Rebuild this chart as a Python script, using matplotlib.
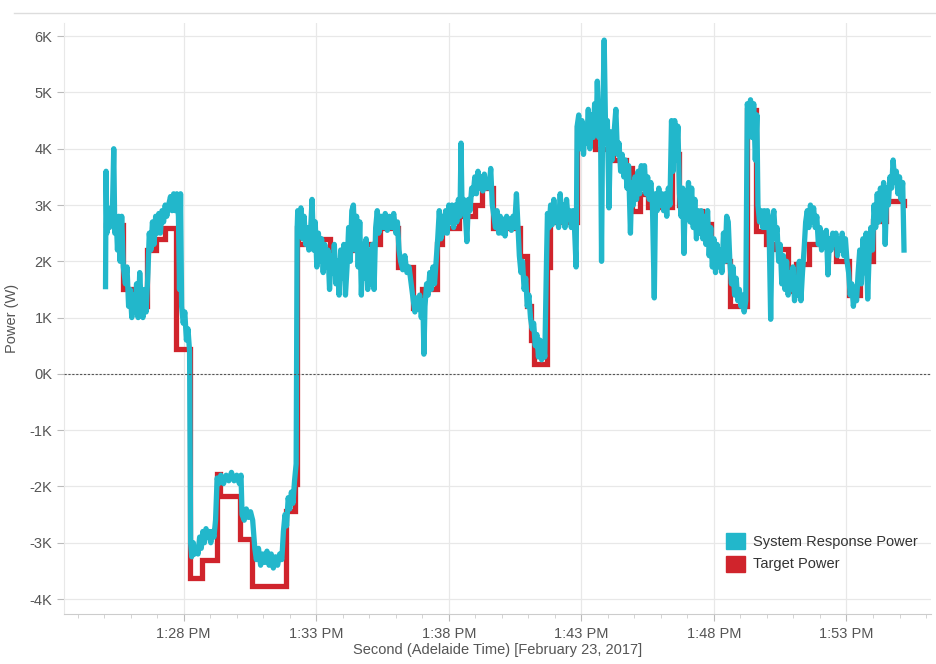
import matplotlib
matplotlib.use("Agg")
import matplotlib.pyplot as plt
from matplotlib.patches import Patch
from matplotlib.lines import Line2D
from matplotlib.ticker import FuncFormatter, MultipleLocator, FixedLocator

# time axis: minutes past 1:00 PM, power in kW
resp_t = [
    25.05, 25.07, 25.10, 25.15, 25.20, 25.25, 25.30, 25.36, 25.40, 25.45, 25.50, 25.55, 25.60, 25.66,
    25.72, 25.80, 25.86, 25.92, 25.98, 26.04, 26.10, 26.16, 26.22, 26.28, 26.34, 26.40, 26.46, 26.52,
    26.58, 26.65, 26.70, 26.76, 26.82, 26.88, 26.94, 27.00, 27.06, 27.12, 27.18, 27.24, 27.30, 27.36,
    27.43, 27.50, 27.56, 27.62, 27.68, 27.74, 27.80, 27.84, 27.88, 27.92, 27.98, 28.04, 28.10, 28.16,
    28.22, 28.26, 28.30, 28.36, 28.42, 28.48, 28.54, 28.60, 28.66, 28.72, 28.78, 28.84, 28.90, 28.96,
    29.02, 29.08, 29.14, 29.20, 29.26, 29.32, 29.40, 29.50, 29.60, 29.70, 29.80, 29.90, 30.00, 30.10,
    30.16, 30.20, 30.28, 30.36, 30.44, 30.52, 30.60, 30.68, 30.74, 30.82, 30.90, 30.98, 31.06, 31.14,
    31.22, 31.30, 31.38, 31.46, 31.54, 31.62, 31.70, 31.76, 31.82, 31.88, 31.94, 32.00, 32.06, 32.12,
    32.18, 32.24, 32.28, 32.30, 32.36, 32.42, 32.48, 32.54, 32.60, 32.66, 32.72, 32.78, 32.84, 32.90,
    32.96, 33.02, 33.08, 33.14, 33.20, 33.26, 33.32, 33.38, 33.44, 33.50, 33.56, 33.62, 33.68, 33.74,
    33.80, 33.86, 33.92, 33.98, 34.04, 34.10, 34.16, 34.22, 34.28, 34.34, 34.40, 34.46, 34.52, 34.58,
    34.64, 34.70, 34.76, 34.82, 34.88, 34.94, 35.00, 35.06, 35.12, 35.18, 35.24, 35.30, 35.36, 35.44,
    35.52, 35.60, 35.68, 35.76, 35.84, 35.92, 36.00, 36.06, 36.12, 36.18, 36.26, 36.34, 36.42, 36.50,
    36.58, 36.66, 36.72, 36.78, 36.84, 36.90, 36.96, 37.02, 37.06, 37.10, 37.16, 37.22, 37.28, 37.34,
    37.40, 37.46, 37.52, 37.58, 37.64, 37.70, 37.76, 37.82, 37.88, 37.94, 38.00, 38.06, 38.12, 38.18,
    38.24, 38.30, 38.36, 38.42, 38.46, 38.50, 38.56, 38.62, 38.68, 38.74, 38.80, 38.86, 38.92, 38.98,
    39.04, 39.10, 39.16, 39.22, 39.28, 39.34, 39.40, 39.46, 39.52, 39.58, 39.64, 39.70, 39.76, 39.82,
    39.88, 39.94, 40.00, 40.06, 40.12, 40.18, 40.24, 40.30, 40.36, 40.42, 40.48, 40.55, 40.60, 40.66,
    40.72, 40.78, 40.84, 40.90, 40.96, 41.02, 41.08, 41.14, 41.20, 41.26, 41.32, 41.38, 41.44, 41.50,
    41.56, 41.62, 41.68, 41.72, 41.78, 41.84, 41.90, 41.96, 42.02, 42.08, 42.14, 42.20, 42.26, 42.32,
    42.38, 42.44, 42.50, 42.56, 42.62, 42.68, 42.74, 42.80, 42.84, 42.90, 42.96, 43.02, 43.08, 43.14,
    43.20, 43.26, 43.32, 43.38, 43.44, 43.50, 43.56, 43.60, 43.66, 43.72, 43.76, 43.80, 43.86, 43.92,
    43.98, 44.04, 44.10, 44.16, 44.22, 44.30, 44.36, 44.42, 44.48, 44.54, 44.60, 44.66, 44.72, 44.78,
    44.85, 44.90, 44.96, 45.02, 45.08, 45.14, 45.20, 45.26, 45.32, 45.38, 45.44, 45.50, 45.56, 45.62,
    45.68, 45.75, 45.80, 45.86, 45.92, 45.98, 46.04, 46.10, 46.16, 46.22, 46.28, 46.34, 46.40, 46.46,
    46.52, 46.58, 46.64, 46.70, 46.76, 46.82, 46.87, 46.92, 46.98, 47.04, 47.10, 47.16, 47.22, 47.28,
    47.34, 47.40, 47.46, 47.52, 47.58, 47.64, 47.70, 47.76, 47.82, 47.88, 47.94, 48.00, 48.06, 48.12,
    48.18, 48.24, 48.30, 48.36, 48.42, 48.48, 48.54, 48.60, 48.66, 48.72, 48.78, 48.84, 48.90, 48.96,
    49.02, 49.08, 49.14, 49.20, 49.26, 49.32, 49.38, 49.44, 49.50, 49.56, 49.62, 49.66, 49.72, 49.78,
    49.84, 49.90, 49.96, 50.02, 50.08, 50.14, 50.20, 50.26, 50.32, 50.38, 50.44, 50.50, 50.56, 50.62,
    50.68, 50.74, 50.80, 50.86, 50.92, 50.98, 51.04, 51.10, 51.16, 51.22, 51.28, 51.34, 51.40, 51.46,
    51.52, 51.58, 51.64, 51.70, 51.76, 51.82, 51.88, 51.94, 52.00, 52.06, 52.12, 52.18, 52.24, 52.30,
    52.36, 52.42, 52.48, 52.54, 52.60, 52.66, 52.72, 52.78, 52.84, 52.90, 52.96, 53.02, 53.08, 53.14,
    53.20, 53.26, 53.32, 53.38, 53.44, 53.50, 53.56, 53.62, 53.68, 53.74, 53.80, 53.86, 53.92, 53.98,
    54.04, 54.10, 54.16, 54.22, 54.28, 54.34, 54.40, 54.46, 54.52, 54.58, 54.64, 54.70, 54.76, 54.82,
    54.88, 54.94, 55.00, 55.06, 55.12, 55.17,
]
resp_kw = [
    1.55, 3.6, 2.5, 2.9, 2.6, 2.95, 2.7, 4.0, 2.5, 2.8, 2.2, 2.8, 2.0, 2.8,
    1.9, 1.6, 1.9, 1.2, 1.5, 1.0, 1.4, 1.1, 1.6, 1.0, 1.8, 1.2, 1.0, 1.5,
    1.1, 1.8, 2.5, 2.2, 2.7, 2.3, 2.8, 2.5, 2.85, 2.5, 2.9, 2.7, 3.0, 2.8,
    3.0, 3.15, 2.9, 3.2, 2.9, 3.2, 2.8, 1.5, 3.2, 1.2, 0.9, 1.1, 0.6, 0.8,
    0.4, -3.0, -3.25, -3.0, -3.2, -3.1, -3.2, -2.9, -3.1, -2.8, -3.0, -2.75, -2.9, -2.8,
    -3.0, -2.8, -2.9, -2.6, -1.85, -1.95, -1.8, -1.95, -1.8, -1.9, -1.75, -1.9, -1.8, -1.95,
    -1.8, -2.5, -2.6, -2.4, -2.55, -2.45, -2.6, -3.1, -3.3, -3.1, -3.4, -3.2, -3.35, -3.15,
    -3.4, -3.2, -3.45, -3.25, -3.4, -3.2, -3.3, -2.8, -2.5, -2.7, -2.2, -2.4, -2.1, -2.3,
    -1.9, -1.6, 2.6, 2.9, 2.6, 2.95, 2.4, 2.8, 2.3, 2.6, 2.2, 2.5, 3.1, 2.2,
    2.7, 1.9, 2.5, 2.0, 2.4, 1.8, 2.3, 1.9, 2.2, 1.5, 2.1, 1.8, 2.3, 1.6,
    2.0, 1.4, 2.2, 1.7, 2.3, 1.4, 1.9, 2.6, 2.0, 2.9, 3.0, 2.2, 2.8, 1.9,
    2.7, 1.4, 2.3, 1.7, 2.4, 1.5, 2.2, 1.6, 2.3, 1.5, 2.6, 2.9, 2.5, 2.8,
    2.6, 2.85, 2.55, 2.8, 2.6, 2.85, 2.5, 2.7, 2.2, 2.0, 1.85, 2.1, 1.8, 1.9,
    1.6, 1.3, 1.1, 1.35, 1.15, 1.4, 1.0, 1.3, 0.35, 1.2, 1.6, 1.4, 1.8, 1.5,
    1.9, 1.6, 2.0, 2.4, 2.9, 2.4, 2.8, 2.5, 2.9, 2.5, 3.0, 2.7, 3.0, 2.6,
    3.0, 2.7, 3.1, 2.8, 4.1, 2.9, 3.1, 2.85, 2.35, 3.1, 2.9, 3.3, 3.2, 3.5,
    3.2, 3.6, 3.3, 3.5, 3.25, 3.55, 3.3, 3.45, 3.3, 3.65, 3.0, 2.8, 2.6, 2.9,
    2.5, 2.8, 2.5, 2.75, 2.45, 2.8, 2.6, 2.75, 2.55, 2.8, 2.6, 3.2, 2.7, 2.1,
    1.8, 2.0, 1.5, 1.7, 1.2, 1.4, 1.0, 0.8, 0.9, 0.5, 0.7, 0.3, 0.6, 0.25,
    0.5, 0.3, 1.9, 2.85, 2.6, 3.0, 2.65, 3.1, 2.7, 2.9, 2.6, 3.2, 2.7, 3.0,
    2.6, 3.1, 2.75, 2.9, 2.6, 2.9, 2.6, 1.9, 4.4, 4.6, 4.0, 4.5, 3.9, 4.4,
    4.1, 4.7, 4.0, 4.6, 4.2, 4.8, 4.3, 5.2, 4.2, 4.6, 2.0, 4.4, 5.93, 4.1,
    4.5, 2.95, 4.3, 3.8, 4.2, 4.7, 3.9, 4.1, 3.6, 3.9, 3.5, 3.8, 3.3, 3.7,
    2.5, 3.4, 3.0, 3.5, 3.1, 3.6, 3.2, 3.7, 3.3, 3.7, 3.2, 3.5, 3.1, 3.4,
    3.0, 1.35, 3.2, 2.9, 3.3, 3.0, 3.2, 2.9, 3.2, 2.8, 3.3, 3.0, 4.5, 3.6,
    4.5, 3.8, 4.4, 3.2, 2.8, 3.3, 2.14, 3.2, 2.9, 3.4, 2.7, 3.3, 2.6, 3.1,
    2.4, 2.9, 2.5, 2.9, 2.4, 2.8, 2.3, 2.9, 2.1, 2.6, 1.9, 2.4, 1.8, 2.3,
    1.9, 2.2, 1.8, 2.5, 2.0, 2.8, 2.7, 2.0, 1.6, 1.9, 1.4, 1.7, 1.3, 1.5,
    1.2, 1.4, 1.1, 1.3, 4.8, 4.5, 4.87, 4.2, 4.8, 3.8, 4.6, 3.0, 2.7, 2.9,
    2.6, 2.9, 2.6, 2.9, 2.6, 0.97, 2.7, 2.9, 2.4, 2.6, 2.0, 2.3, 1.6, 2.1,
    1.5, 2.0, 1.4, 1.8, 1.5, 1.9, 1.3, 1.7, 1.4, 2.0, 1.3, 1.8, 2.2, 2.7,
    2.9, 2.6, 3.0, 2.7, 2.95, 2.6, 2.8, 2.3, 2.6, 2.2, 2.5, 2.3, 2.55, 1.76,
    2.4, 2.2, 2.5, 2.3, 2.5, 2.1, 2.4, 2.2, 2.5, 2.1, 2.4, 2.0, 1.8, 1.4,
    1.6, 1.2, 1.5, 1.3, 1.8, 2.2, 1.6, 2.4, 1.8, 2.5, 1.33, 2.2, 2.6, 2.2,
    3.0, 2.6, 3.2, 2.7, 3.3, 2.8, 3.4, 2.3, 3.3, 3.0, 3.5, 3.3, 3.8, 3.4,
    3.6, 3.2, 3.5, 3.1, 3.4, 2.2,
]

target_t = [
    25.05, 25.72, 26.00, 26.62, 26.95, 27.30, 27.70, 28.25, 28.69, 29.26, 29.38, 30.14,
    30.58, 31.84, 32.21, 32.28, 32.30, 32.65, 33.50, 34.00, 34.80, 35.40, 36.10, 36.65,
    37.00, 37.55, 37.75, 38.40, 39.00, 39.25, 39.65, 40.20, 40.70, 40.95, 41.10, 41.20,
    41.70, 41.80, 42.83, 43.50, 44.20, 44.70, 44.90, 45.20, 45.50, 46.40, 46.60, 46.70,
    47.10, 47.55, 47.90, 48.20, 48.60, 49.25, 49.60, 49.95, 50.30, 50.80, 51.10, 51.60,
    52.20, 52.60, 53.10, 53.50, 54.00, 54.50, 55.17,
]
target_kw = [
    2.65, 1.5, 1.2, 2.2, 2.4, 2.6, 0.45, -3.63, -3.3, -1.78, -2.17, -2.94,
    -3.77, -2.44, -1.96, 2.6, 2.3, 2.4, 2.0, 2.2, 2.3, 2.6, 1.9, 1.17,
    1.5, 2.3, 2.6, 2.8, 3.0, 3.3, 2.6, 2.6, 2.1, 1.2, 0.6, 0.18,
    1.9, 2.7, 4.37, 4.0, 3.8, 3.65, 2.9, 3.2, 2.97, 4.2, 3.9, 3.0,
    2.9, 2.66, 2.2, 2.0, 1.2, 4.68, 2.54, 2.3, 2.21, 1.48, 1.95, 2.3,
    2.4, 2.0, 1.4, 2.0, 2.72, 3.08, 3.0,
]

major_ticks = [28, 33, 38, 43, 48, 53]
major_labels = ["1:28 PM", "1:33 PM", "1:38 PM", "1:43 PM", "1:48 PM", "1:53 PM"]
y_ticks = [-4, -3, -2, -1, 0, 1, 2, 3, 4, 5, 6]

teal = "#22b7cb"
red = "#d0242c"
txt = "#555555"
grid_c = "#e8e8e8"

plt.rcParams['font.family'] = ['Liberation Sans', 'DejaVu Sans']

fig = plt.figure(figsize=(9.36, 6.64), dpi=100)
ax = fig.add_axes([0.068, 0.075, 0.927, 0.89])

ax.step(target_t, target_kw, where='post', color=red, linewidth=3.8, solid_joinstyle='miter', zorder=3)
ax.plot(resp_t, resp_kw, color=teal, linewidth=3.8, solid_joinstyle='round', zorder=4)

ax.axhline(0, color="#555555", linestyle=(0, (2, 1.5)), linewidth=0.8, zorder=5)

ax.set_xlim(23.47, 56.2)
ax.set_ylim(-4.27, 6.23)

ax.xaxis.set_major_locator(FixedLocator(major_ticks))
ax.set_xticklabels(major_labels)
ax.xaxis.set_minor_locator(MultipleLocator(1))
ax.set_yticks(y_ticks)
ax.yaxis.set_major_formatter(FuncFormatter(lambda v, p: f"{int(round(v))}K"))

ax.grid(True, which='major', color=grid_c, linewidth=0.9, zorder=0)
ax.set_axisbelow(True)

for side in ['top', 'right']:
    ax.spines[side].set_visible(False)
ax.spines['left'].set_color(grid_c)
ax.spines['bottom'].set_color("#cccccc")

ax.tick_params(axis='x', which='major', length=5, color="#bbbbbb", labelcolor=txt, labelsize=10.5, pad=4)
ax.tick_params(axis='x', which='minor', length=3, color="#cccccc")
ax.tick_params(axis='y', length=5, color="#bbbbbb", labelcolor=txt, labelsize=10.5, pad=3)

ax.set_xlabel("Second (Adelaide Time) [February 23, 2017]", color=txt, fontsize=10.5, labelpad=2)
ax.set_ylabel("Power (W)", color=txt, fontsize=10.5, labelpad=8)

handles = [Patch(facecolor=teal, edgecolor=teal), Patch(facecolor=red, edgecolor=red)]
ax.legend(handles, ["System Response Power", "Target Power"], loc='lower right',
          bbox_to_anchor=(1.0, 0.05), frameon=False, fontsize=10.5,
          handlelength=1.3, handleheight=1.3, handletextpad=0.6, labelspacing=0.45,
          labelcolor="#333333")

fig.add_artist(Line2D([0.015, 1.0], [0.98, 0.98], color="#dddddd", linewidth=1.0))

fig.savefig("out.png", dpi=100)
